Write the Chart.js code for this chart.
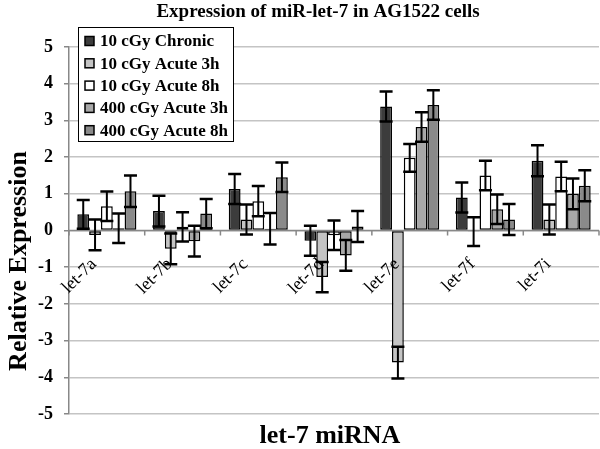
<!DOCTYPE html>
<html>
<head>
<meta charset="utf-8">
<script src="https://cdn.jsdelivr.net/npm/chart.js@4/dist/chart.umd.min.js"></script>
<style>
  body { margin: 0; background: #fff; }
  canvas { display: block; }
</style>
</head>
<body>
<canvas id="chart" width="600" height="449"></canvas>
<script>
// let-7 family members on the category axis
const categories = ['let-7a', 'let-7b', 'let-7c', 'let-7d', 'let-7e', 'let-7f', 'let-7i'];

// mean relative expression for each treatment
const chronic10 = [0.44, 0.53, 1.13, -0.28, 3.38, 0.90, 1.90];
const acute3h10 = [-0.12, -0.50, 0.30, -1.27, -3.60, -0.03, 0.30];
const acute8h10 = [0.66, 0.10, 0.80, -0.13, 1.98, 1.50, 1.47];
const acute3h400 = [0.06, -0.29, 0.05, -0.68, 2.82, 0.58, 1.00];
const acute8h400 = [1.07, 0.46, 1.45, 0.11, 3.42, 0.30, 1.22];

// error bar half-lengths
const chronic10Err = [0.39, 0.42, 0.41, 0.41, 0.41, 0.41, 0.42];
const acute3h10Err = [0.42, 0.42, 0.41, 0.41, 0.43, 0.39, 0.41];
const acute8h10Err = [0.40, 0.40, 0.41, 0.40, 0.38, 0.40, 0.40];
const acute3h400Err = [0.40, 0.42, 0.43, 0.42, 0.40, 0.40, 0.42];
const acute8h400Err = [0.43, 0.40, 0.40, 0.42, 0.40, 0.42, 0.42];

const seriesNames = ['10 cGy Chronic', '10 cGy Acute 3h', '10 cGy Acute 8h', '400 cGy Acute 3h', '400 cGy Acute 8h'];
const yTicks = [-5, -4, -3, -2, -1, 0, 1, 2, 3, 4, 5];

const titleText = 'Expression of miR-let-7 in AG1522 cells';
const yTitle = 'Relative Expression';
const xTitle = 'let-7 miRNA';

const serif = "'Liberation Serif', 'Times New Roman', serif";
const fills = ['#3c3c3c', '#c4c4c4', '#ffffff', '#a8a8a8', '#8a8a8a'];

const values = [chronic10, acute3h10, acute8h10, acute3h400, acute8h400];
const errors = [chronic10Err, acute3h10Err, acute8h10Err, acute3h400Err, acute8h400Err];

const datasets = values.map((v, i) => ({
    label: seriesNames[i],
    data: v,
    errors: errors[i],
    backgroundColor: fills[i],
    borderColor: '#000',
    borderWidth: 1.5,
    borderSkipped: false,
    categoryPercentage: 0.78,
    barPercentage: 1.0
}));

// zero axis line, category ticks and rotated labels
const categoryAxis = {
    id: 'categoryAxis',
    beforeDatasetsDraw(chart) {
        const ctx = chart.ctx;
        const x = chart.scales.x, y = chart.scales.y;
        const y0 = y.getPixelForValue(0);
        const step = x.getPixelForValue(1) - x.getPixelForValue(0);
        ctx.save();
        ctx.strokeStyle = '#888';
        ctx.lineWidth = 1.5;
        ctx.beginPath();
        ctx.moveTo(chart.chartArea.left, y0);
        ctx.lineTo(chart.chartArea.right, y0);
        for (let i = 0; i <= categories.length; i++) {
            const bx = x.getPixelForValue(0) - step / 2 + i * step;
            ctx.moveTo(bx, y0);
            ctx.lineTo(bx, y0 + 5);
        }
        ctx.stroke();
        ctx.restore();
    },
    afterDatasetsDraw(chart) {
        const ctx = chart.ctx;
        const x = chart.scales.x, y = chart.scales.y;
        const y0 = y.getPixelForValue(0);
        ctx.save();
        ctx.fillStyle = '#000';
        ctx.font = '18px ' + serif;
        ctx.textAlign = 'right';
        ctx.textBaseline = 'middle';
        categories.forEach((c, i) => {
            const cx = x.getPixelForValue(i);
            ctx.save();
            ctx.translate(cx - 13, y0 + 31);
            ctx.rotate(-Math.PI / 4);
            ctx.fillText(c, 0, 0);
            ctx.restore();
        });
        ctx.restore();
    }
};

const errorBars = {
    id: 'errorBars',
    afterDatasetsDraw(chart) {
        const ctx = chart.ctx;
        const y = chart.scales.y;
        ctx.save();
        ctx.strokeStyle = '#000';
        chart.data.datasets.forEach((ds, di) => {
            const meta = chart.getDatasetMeta(di);
            meta.data.forEach((bar, i) => {
                const v = ds.data[i], e = ds.errors[i];
                const hi = y.getPixelForValue(v + e);
                const lo = y.getPixelForValue(v - e);
                ctx.lineWidth = 2;
                ctx.beginPath();
                ctx.moveTo(bar.x, hi);
                ctx.lineTo(bar.x, lo);
                ctx.stroke();
                ctx.lineWidth = 2.5;
                ctx.beginPath();
                ctx.moveTo(bar.x - 6.5, hi);
                ctx.lineTo(bar.x + 6.5, hi);
                ctx.moveTo(bar.x - 6.5, lo);
                ctx.lineTo(bar.x + 6.5, lo);
                ctx.stroke();
            });
        });
        ctx.restore();
    }
};

const textsAndLegend = {
    id: 'textsAndLegend',
    afterDraw(chart) {
        const ctx = chart.ctx;
        ctx.save();
        ctx.fillStyle = '#000';
        ctx.textBaseline = 'middle';
        ctx.textAlign = 'center';
        ctx.font = 'bold 19px ' + serif;
        ctx.fillText(titleText, 318, 12);
        ctx.font = 'bold 26px ' + serif;
        ctx.fillText(xTitle, 330, 436);
        ctx.save();
        ctx.translate(19, 261);
        ctx.rotate(-Math.PI / 2);
        ctx.fillText(yTitle, 0, 0);
        ctx.restore();

        // legend box
        ctx.fillStyle = '#fff';
        ctx.fillRect(78, 27, 155, 114);
        ctx.strokeStyle = '#000';
        ctx.lineWidth = 1;
        ctx.strokeRect(78.5, 27.5, 155, 114);
        ctx.textAlign = 'left';
        ctx.font = 'bold 17px ' + serif;
        chart.data.datasets.forEach((ds, i) => {
            const cy = 41 + i * 22.3;
            ctx.fillStyle = ds.backgroundColor;
            ctx.fillRect(85, cy - 4.5, 9, 9);
            ctx.lineWidth = 1.5;
            ctx.strokeRect(85, cy - 4.5, 9, 9);
            ctx.fillStyle = '#000';
            ctx.fillText(ds.label, 100, cy + 1);
        });
        ctx.restore();
    }
};

new Chart(document.getElementById('chart'), {
    type: 'bar',
    data: { labels: categories, datasets: datasets },
    plugins: [categoryAxis, errorBars, textsAndLegend],
    options: {
        responsive: false,
        animation: false,
        layout: { padding: { left: 0, right: 1, top: 47, bottom: 35 } },
        plugins: { legend: { display: false }, title: { display: false }, tooltip: { enabled: false } },
        scales: {
            x: { display: false },
            y: {
                min: -5,
                max: 5,
                afterBuildTicks: s => { s.ticks = yTicks.map(v => ({ value: v })); },
                afterFit: s => { s.width = 69; },
                ticks: {
                    color: '#000',
                    padding: 11,
                    font: { family: serif, size: 18, weight: 'bold' }
                },
                grid: { color: '#c4c4c4', lineWidth: 1.5, tickColor: '#888', tickLength: 5 },
                border: { color: '#888', width: 1.5 }
            }
        }
    }
});
</script>
</body>
</html>
